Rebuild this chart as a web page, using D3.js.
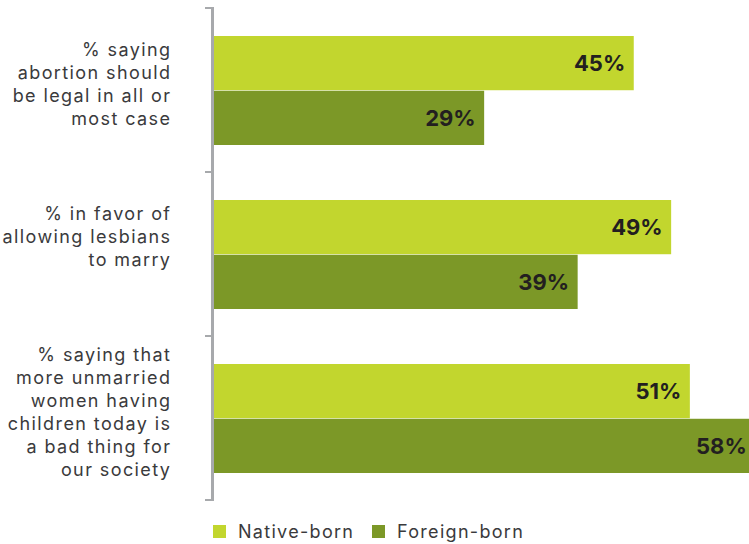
<!DOCTYPE html>
<html>
<head>
<meta charset="utf-8">
<script src="https://cdn.jsdelivr.net/npm/d3@7"></script>
<style>
  html, body { margin: 0; padding: 0; background: #ffffff; }
  svg { display: block; }
</style>
</head>
<body>
<svg id="chart" width="749" height="544"></svg>
<script>
// Survey items (each label is pre-split into its display lines)
const categories = [
  "% saying|abortion should|be legal in all or|most case",
  "% in favor of|allowing lesbians|to marry",
  "% saying that|more unmarried|women having|children today is|a bad thing for|our society"
];
const seriesNames = ["Native-born", "Foreign-born"];
const nativeBorn = [45, 49, 51];
const foreignBorn = [29, 39, 58];
const seriesColors = ["#c2d62e", "#7c9827"];

const W = 749, H = 544;
const svg = d3.select("#chart");
const font = "Inter, 'Open Sans', sans-serif";

const values = [nativeBorn, foreignBorn];
const rows = categories.map((c, i) => ({
  cat: c,
  vals: seriesNames.map((s, k) => ({ series: s, k, v: values[k][i] }))
}));

const x = d3.scaleLinear().domain([0, 100]).range([213, 1148]);
const y = d3.scaleBand().domain(categories).range([8, 500]).paddingInner(0);
const inner = d3.scaleBand().domain(seriesNames).range([28, 137]).paddingInner(0.01);

// bars
const g = svg.append("g");
const grp = g.selectAll("g.row").data(rows).join("g")
  .attr("class", "row")
  .attr("transform", d => `translate(0,${y(d.cat)})`);

grp.selectAll("rect").data(d => d.vals).join("rect")
  .attr("x", x(0))
  .attr("y", d => inner(d.series))
  .attr("width", d => x(d.v) - x(0))
  .attr("height", inner.bandwidth())
  .attr("fill", d => seriesColors[d.k]);

// value labels inside bar ends
grp.selectAll("text.val").data(d => d.vals).join("text")
  .attr("class", "val")
  .attr("x", d => x(d.v) - 8.5)
  .attr("y", d => inner(d.series) + inner.bandwidth() / 2 + 8)
  .attr("text-anchor", "end")
  .attr("font-family", font)
  .attr("font-weight", 700)
  .attr("font-size", 22)
  .attr("fill", "#231f20")
  .text(d => d.v + "%");

// axis line with ticks at the group boundaries
const axisX = 212.5;
const bounds = y.domain().map(c => y(c)).concat([y.range()[1]]);
const axis = svg.append("g");
axis.append("line")
  .attr("x1", axisX).attr("x2", axisX)
  .attr("y1", bounds[0] - 1).attr("y2", bounds[bounds.length - 1] + 1)
  .attr("stroke", "#a7a9ac").attr("stroke-width", 3);
axis.selectAll("line.tick").data(bounds).join("line")
  .attr("class", "tick")
  .attr("x1", 205).attr("x2", axisX)
  .attr("y1", d => d).attr("y2", d => d)
  .attr("stroke", "#a7a9ac").attr("stroke-width", 2);

// category labels, right-aligned left of the axis
const lh = 23;
const labelSpacing = 1.4;
const labels = svg.append("g");
categories.forEach(c => {
  const lines = c.split("|");
  const n = Math.max(lines.length, 4);
  const center = y(c) + inner.range()[0] + (inner.range()[1] - inner.range()[0]) / 2;
  const first = center - (n - 1) * lh / 2;
  const t = labels.append("text")
    .attr("text-anchor", "end")
    .attr("font-family", font)
    .attr("font-size", 18)
    .attr("letter-spacing", labelSpacing)
    .attr("fill", "#3a3a3c");
  lines.forEach((ln, i) => {
    t.append("tspan").attr("x", 170 + labelSpacing).attr("y", first + i * lh).text(ln);
  });
});

// legend
const legendX = [213, 372];
const leg = svg.append("g").selectAll("g").data(seriesNames).join("g")
  .attr("transform", (d, i) => `translate(${legendX[i]},0)`);
leg.append("rect")
  .attr("x", 0).attr("y", 525).attr("width", 13).attr("height", 13)
  .attr("fill", (d, i) => seriesColors[i]);
leg.append("text")
  .attr("x", 25).attr("y", 538)
  .attr("font-family", font)
  .attr("font-size", 18)
  .attr("letter-spacing", 1.3)
  .attr("fill", "#3a3a3c")
  .text(d => d);
</script>
</body>
</html>
